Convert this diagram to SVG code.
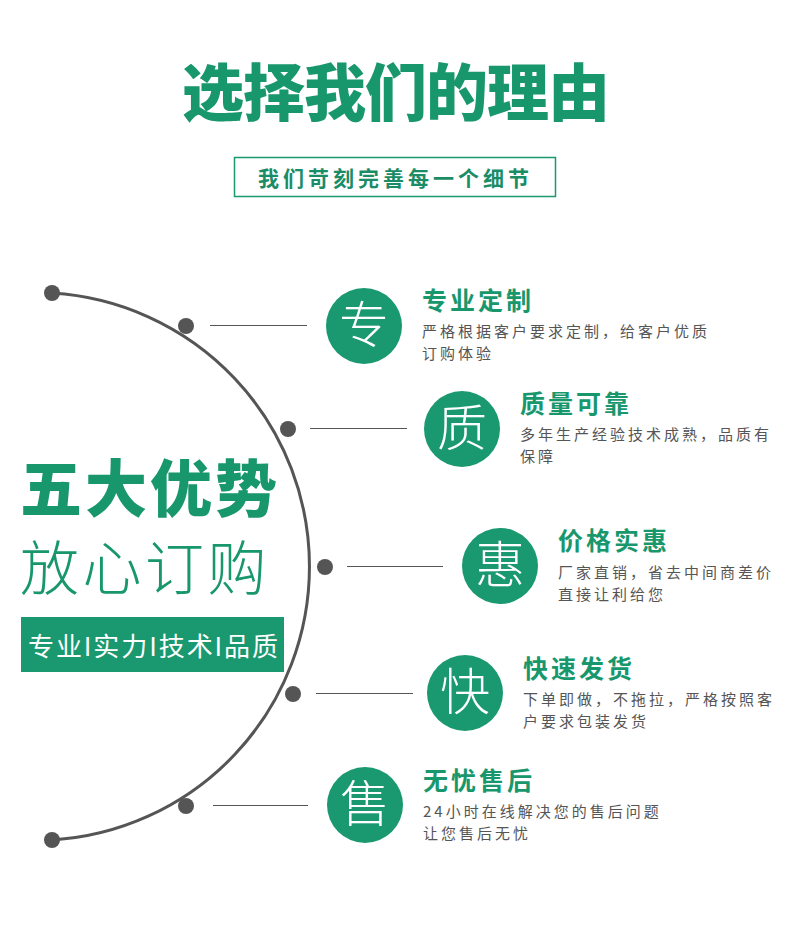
<svg xmlns="http://www.w3.org/2000/svg" width="790" height="951" viewBox="0 0 790 951">
<style>
text{font-family:"Noto Sans CJK SC","Noto Sans",sans-serif}
.title{font-size:62px;font-weight:900;fill:#18976d;letter-spacing:-1px}
.sub{font-size:21px;font-weight:700;fill:#1a8c66;letter-spacing:4px}
.big{font-size:62px;font-weight:900;fill:#18976d;letter-spacing:3px}
.light{font-size:59px;font-weight:300;fill:#18976d;letter-spacing:3.5px}
.tag{font-size:26px;font-weight:400;fill:#ffffff}
.circ{fill:#1a9970}
.glyph{font-size:50px;font-weight:300;fill:#ffffff;text-anchor:middle}
.head{font-size:25px;font-weight:700;fill:#18976d;letter-spacing:3px}
.desc{font-size:15px;font-weight:400;fill:#555555;letter-spacing:3px}
.arc{fill:none;stroke:#555555;stroke-width:3}
.dot{fill:#555555}
.link{stroke:#555555;stroke-width:1}
</style>
<rect width="790" height="951" fill="#ffffff"/>
<g id="header">
<text class="title" x="182" y="116">选择我们的理由</text>
<rect x="234.5" y="157.5" width="321" height="39" fill="none" stroke="#1a9970" stroke-width="1.5"/>
<text class="sub" x="258" y="186">我们苛刻完善每一个细节</text>
</g>
<g id="left-block">
<text class="big" x="20" y="512">五大优势</text>
<text class="light" x="20" y="590">放心订购</text>
<rect x="21" y="617" width="263" height="55" fill="#1a9970"/>
<text class="tag" x="28" y="656" textLength="250" lengthAdjust="spacing">专业I实力I技术I品质</text>
</g>
<g id="connectors">
<path class="arc" d="M52 293 A274 274 0 0 1 52 840"/>
<circle class="dot" cx="52" cy="293" r="8"/>
<circle class="dot" cx="186" cy="326" r="8"/>
<circle class="dot" cx="288" cy="429" r="8"/>
<circle class="dot" cx="325" cy="567" r="8"/>
<circle class="dot" cx="293" cy="694" r="8"/>
<circle class="dot" cx="186" cy="806" r="8"/>
<circle class="dot" cx="52" cy="840" r="8"/>
<line class="link" x1="210" y1="325.5" x2="307" y2="325.5"/>
<line class="link" x1="310" y1="428.5" x2="407" y2="428.5"/>
<line class="link" x1="347" y1="566.5" x2="443" y2="566.5"/>
<line class="link" x1="316" y1="693.5" x2="413" y2="693.5"/>
<line class="link" x1="213" y1="805.5" x2="308" y2="805.5"/>
</g>
<g id="item1">
<circle class="circ" cx="364" cy="326" r="38"/>
<text class="glyph" x="364" y="343">专</text>
<text class="head" x="422" y="310">专业定制</text>
<text class="desc" x="422" y="337">严格根据客户要求定制，给客户优质</text>
<text class="desc" x="422" y="359">订购体验</text>
</g>
<g id="item2">
<circle class="circ" cx="462" cy="429" r="38"/>
<text class="glyph" x="462" y="446">质</text>
<text class="head" x="520" y="413">质量可靠</text>
<text class="desc" x="520" y="440">多年生产经验技术成熟，品质有</text>
<text class="desc" x="520" y="462">保障</text>
</g>
<g id="item3">
<circle class="circ" cx="500" cy="566" r="38"/>
<text class="glyph" x="500" y="583">惠</text>
<text class="head" x="558" y="550">价格实惠</text>
<text class="desc" x="558" y="578">厂家直销，省去中间商差价</text>
<text class="desc" x="558" y="600">直接让利给您</text>
</g>
<g id="item4">
<circle class="circ" cx="465" cy="693" r="38"/>
<text class="glyph" x="465" y="710">快</text>
<text class="head" x="523" y="678">快速发货</text>
<text class="desc" x="523" y="705">下单即做，不拖拉，严格按照客</text>
<text class="desc" x="523" y="727">户要求包装发货</text>
</g>
<g id="item5">
<circle class="circ" cx="365" cy="805" r="38"/>
<text class="glyph" x="365" y="822">售</text>
<text class="head" x="423" y="790">无忧售后</text>
<text class="desc" x="423" y="817">24小时在线解决您的售后问题</text>
<text class="desc" x="423" y="839">让您售后无忧</text>
</g>
</svg>
